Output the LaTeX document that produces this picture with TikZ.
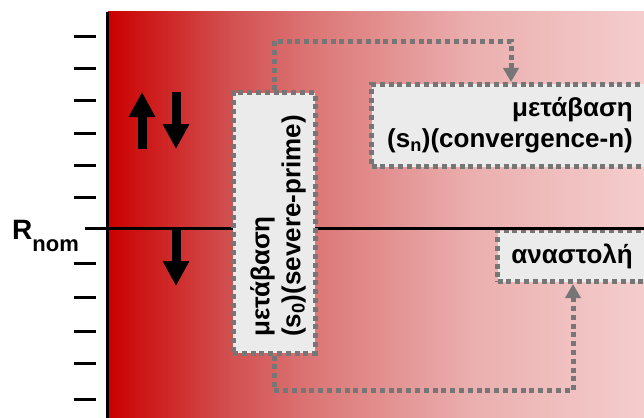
\documentclass[tikz,border=0pt]{standalone}
\usepackage{fontspec}
\setmainfont{Liberation Sans}
\usetikzlibrary{arrows.meta}
\definecolor{fadeA}{RGB}{203,0,0}
\definecolor{fadeB}{RGB}{210,78,78}
\definecolor{fadeC}{RGB}{221,122,122}
\definecolor{fadeD}{RGB}{235,175,175}
\definecolor{fadeE}{RGB}{245,205,205}
\definecolor{boxfill}{RGB}{235,235,235}
\definecolor{dotgray}{RGB}{118,118,118}
% left-to-right red fade; the middle 25bp..75bp band spans the filled area
\pgfdeclarehorizontalshading{redfade}{100bp}{%
  color(0bp)=(fadeA); color(25bp)=(fadeA); color(36bp)=(fadeB);
  color(45bp)=(fadeC); color(59bp)=(fadeD); color(75bp)=(fadeE);
  color(100bp)=(fadeE)}
\tikzset{
  x=1pt, y=1pt,
  statebox/.style={rectangle, draw=dotgray, fill=boxfill, line width=5pt,
    dash pattern=on 5pt off 3.8pt, inner sep=0pt},
  labeltext/.style={font=\bfseries\fontsize{26}{31}\selectfont, inner sep=0pt},
  link/.style={draw=dotgray, line width=5pt, dash pattern=on 5pt off 3.8pt,
    -{Triangle[width=15pt,length=14pt,fill=dotgray]}},
  tickmark/.style={line width=3pt},
  axisline/.style={line width=3pt},
  bigarrow/.style={line width=9pt, -{Triangle[width=25pt,length=25pt]}},
}
\begin{document}
\begin{tikzpicture}
\useasboundingbox (0,0) rectangle (644,-417);
\clip (0,0) rectangle (644,-417);

% graded background behind the scale
\shade[shading=redfade] (108,-12) rectangle (644,-417);

% scale ticks
\foreach \ty in {37,69,101,133,165,197,263,297,331,363,399}
  \draw[tickmark] (74,-\ty) -- (96,-\ty);

% vertical axis
\coordinate (axtop) at (107,-12);
\coordinate (axbot) at (107,-420);
\draw[axisline] (axtop) -- (axbot);

% direction arrows
\coordinate (upA) at (142,-149);
\coordinate (upB) at (142,-92);
\coordinate (dnA) at (176,-92);
\coordinate (dnB) at (176,-149);
\coordinate (lowA) at (176,-228);
\coordinate (lowB) at (176,-286);
\draw[bigarrow] (upA) -- (upB);
\draw[bigarrow] (dnA) -- (dnB);
\draw[bigarrow] (lowA) -- (lowB);

% state boxes on the right
\node[statebox, anchor=north west, minimum width=300pt, minimum height=82pt]
  (cbox) at (369,-82) {};
\node[statebox, anchor=north west, minimum width=200pt, minimum height=51pt]
  (hbox) at (495,-228) {};

% nominal level
\node[anchor=base west, inner sep=0pt] (rnom) at (12,-239)
  {\bfseries\fontsize{28}{28}\selectfont R\raisebox{-12pt}{\fontsize{22}{22}\selectfont nom}};
\coordinate (nomA) at (85,-228);
\coordinate (nomB) at (650,-228);
\draw[axisline] (nomA) -- (nomB);

% tall box across the nominal level
\node[statebox, minimum width=82pt, minimum height=260pt] (sbox) at (274,-223) {};

% texts
\node[labeltext, rotate=90, anchor=west, align=left] (stext) at (278,-337)
  {μετάβαση\\(s\textsubscript{0})(severe-prime)};
\node[labeltext, anchor=east, align=right] (ctext) at (633,-125)
  {μετάβαση\\(s\textsubscript{n})(convergence-n)};
\node[labeltext, anchor=base east] (htext) at (633,-263) {αναστολή};

% transitions
\draw[link] (sbox.north) -- ++(0,49) -| ([xshift=142pt]cbox.north west);
\draw[link] (sbox.south) -- ++(0,-35) -| ([xshift=78pt]hbox.south west);
\end{tikzpicture}
\end{document}
